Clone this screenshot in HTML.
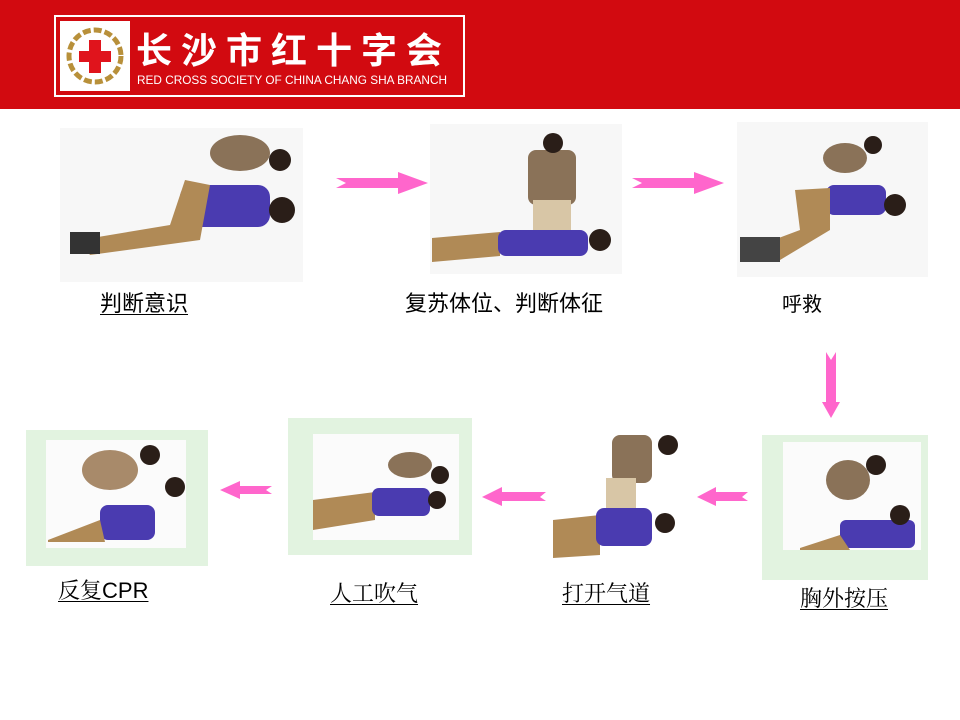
<!DOCTYPE html>
<html><head><meta charset="utf-8"><style>
html,body{margin:0;padding:0;background:#fff;}
body{width:960px;height:720px;position:relative;overflow:hidden;font-family:"Liberation Sans","Noto Sans CJK SC",sans-serif;}
.lbl{position:absolute;white-space:nowrap;color:#000;}
.u{text-decoration:underline;text-underline-offset:3px;text-decoration-thickness:1px;}
.serif{font-family:"Noto Serif CJK SC","Liberation Serif",serif;}
</style></head><body>
<svg width="960" height="720" style="position:absolute;left:0;top:0">
<defs>
<g id="arr"><polygon points="0,-5 62,-5 62,-11 92,0 62,11 62,5 0,5 10,0" fill="#ff66cc"/></g>
</defs>
<rect x="0" y="0" width="960" height="109" fill="#d20a10"/>
<rect x="55" y="16" width="409" height="80" fill="none" stroke="#fff" stroke-width="2"/>
<rect x="60" y="21" width="70" height="70" fill="#fff"/>
<circle cx="95" cy="56" r="26" fill="none" stroke="#b8903a" stroke-width="5" stroke-dasharray="8 3"/>
<rect x="79" y="51" width="32" height="11" fill="#e0141c"/>
<rect x="89" y="40" width="12" height="33" fill="#e0141c"/>
<text x="136" y="63" fill="#fff" font-size="36" font-weight="bold" font-family="Noto Sans CJK SC,sans-serif" textLength="306" lengthAdjust="spacing">长沙市红十字会</text>
<text x="137" y="84" fill="#fff" font-size="12" font-family="Liberation Sans,sans-serif" textLength="310" lengthAdjust="spacingAndGlyphs">RED CROSS SOCIETY OF CHINA CHANG SHA BRANCH</text>

<!-- photo 1 -->
<rect x="60" y="128" width="243" height="154" fill="#f7f7f7"/>
<ellipse cx="240" cy="153" rx="30" ry="18" fill="#8a7258"/>
<circle cx="280" cy="160" r="11" fill="#2a1e18"/>
<rect x="180" y="185" width="90" height="42" rx="12" fill="#4a3bb0"/>
<path d="M80 240 L170 225 L185 180 L210 185 L200 240 L90 255 Z" fill="#b08a56"/>
<circle cx="282" cy="210" r="13" fill="#2a1e18"/>
<rect x="70" y="232" width="30" height="22" fill="#333"/>
<!-- photo 2 -->
<rect x="430" y="124" width="192" height="150" fill="#f7f7f7"/>
<rect x="528" y="150" width="48" height="55" rx="8" fill="#8a7258"/>
<circle cx="553" cy="143" r="10" fill="#2a1e18"/>
<rect x="533" y="200" width="38" height="30" fill="#d8c6a6"/>
<path d="M432 238 L500 232 L500 256 L432 262 Z" fill="#b08a56"/>
<rect x="498" y="230" width="90" height="26" rx="8" fill="#4a3bb0"/>
<circle cx="600" cy="240" r="11" fill="#2a1e18"/>
<!-- photo 3 -->
<rect x="737" y="122" width="191" height="155" fill="#f7f7f7"/>
<ellipse cx="845" cy="158" rx="22" ry="15" fill="#8a7258"/>
<circle cx="873" cy="145" r="9" fill="#2a1e18"/>
<rect x="826" y="185" width="60" height="30" rx="8" fill="#4a3bb0"/>
<path d="M760 245 L800 230 L795 190 L830 188 L830 230 L780 260 Z" fill="#b08a56"/>
<circle cx="895" cy="205" r="11" fill="#2a1e18"/>
<rect x="740" y="237" width="40" height="25" fill="#444"/>
<!-- arrows -->
<use href="#arr" x="336" y="183"/>
<use href="#arr" x="632" y="183"/>
<polygon points="826,352 826,402 822,402 831,418 840,402 836,402 836,352 831,360" fill="#ff66cc"/>
<polygon points="748,492 716,492 716,487 697,497 716,506 716,501 748,501 742,497" fill="#ff66cc"/>
<polygon points="546,492 502,492 502,487 482,497 502,506 502,501 546,501 540,497" fill="#ff66cc"/>
<polygon points="272,486 240,486 240,481 220,490 240,499 240,494 272,494 266,490" fill="#ff66cc"/>
<!-- photo 4 -->
<rect x="762" y="435" width="166" height="145" fill="#e2f3e0"/>
<rect x="783" y="442" width="138" height="108" fill="#fbfbfb"/>
<ellipse cx="848" cy="480" rx="22" ry="20" fill="#8a7258"/>
<circle cx="876" cy="465" r="10" fill="#2a1e18"/>
<rect x="840" y="520" width="75" height="28" rx="6" fill="#4a3bb0"/>
<circle cx="900" cy="515" r="10" fill="#2a1e18"/>
<path d="M800 548 L840 535 L850 550 L800 550Z" fill="#b08a56"/>
<!-- photo 5 -->
<rect x="552" y="428" width="134" height="134" fill="#fff"/>
<rect x="612" y="435" width="40" height="48" rx="8" fill="#8a7258"/>
<circle cx="668" cy="445" r="10" fill="#2a1e18"/>
<rect x="606" y="478" width="30" height="40" fill="#d8c6a6"/>
<path d="M553 520 L600 515 L600 555 L553 558Z" fill="#b08a56"/>
<rect x="596" y="508" width="56" height="38" rx="8" fill="#4a3bb0"/>
<circle cx="665" cy="523" r="10" fill="#2a1e18"/>
<!-- photo 6 -->
<rect x="288" y="418" width="184" height="137" fill="#e2f3e0"/>
<rect x="313" y="434" width="146" height="106" fill="#fbfbfb"/>
<ellipse cx="410" cy="465" rx="22" ry="13" fill="#8a7258"/>
<circle cx="440" cy="475" r="9" fill="#2a1e18"/>
<path d="M313 500 L375 492 L375 520 L313 530Z" fill="#b08a56"/>
<rect x="372" y="488" width="58" height="28" rx="7" fill="#4a3bb0"/>
<circle cx="437" cy="500" r="9" fill="#2a1e18"/>
<!-- photo 7 -->
<rect x="26" y="430" width="182" height="136" fill="#e2f3e0"/>
<rect x="46" y="440" width="140" height="108" fill="#fbfbfb"/>
<ellipse cx="110" cy="470" rx="28" ry="20" fill="#a88a6a"/>
<circle cx="150" cy="455" r="10" fill="#2a1e18"/>
<circle cx="175" cy="487" r="10" fill="#2a1e18"/>
<rect x="100" y="505" width="55" height="35" rx="8" fill="#4a3bb0"/>
<path d="M48 540 L100 520 L105 542 L48 542Z" fill="#b08a56"/>
</svg>
<div class="lbl u" style="left:100px;top:286px;font-size:22px;">判断意识</div>
<div class="lbl" style="left:405px;top:286px;font-size:22px;">复苏体位、判断体征</div>
<div class="lbl" style="left:782px;top:288px;font-size:20px;">呼救</div>
<div class="lbl u serif" style="left:800px;top:582px;font-size:22px;">胸外按压</div>
<div class="lbl u serif" style="left:562px;top:577px;font-size:22px;">打开气道</div>
<div class="lbl u serif" style="left:330px;top:577px;font-size:22px;">人工吹气</div>
<div class="lbl u" style="left:58px;top:574px;font-size:22px;"><span class="serif">反复</span>CPR</div>
</body></html>
